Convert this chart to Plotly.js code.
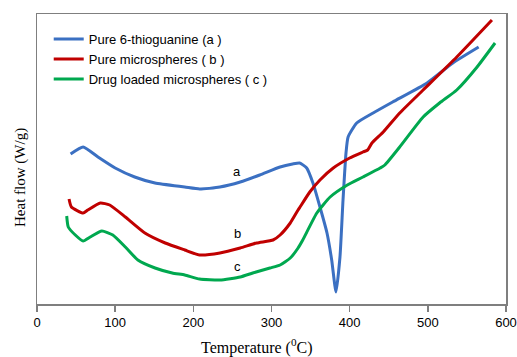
<!DOCTYPE html>
<html>
<head>
<meta charset="utf-8">
<script src="https://cdn.plot.ly/plotly-3.0.1.min.js"></script>
<style>html,body{margin:0;padding:0;background:#fff;}#chart{width:517px;height:357px;}</style>
</head>
<body>
<div id="chart"></div>
<script>
// Temperature (°C) and heat flow (arbitrary units)
const tempA = [43, 59, 78, 100, 125, 151, 189, 208, 234, 260, 285, 311, 327, 336, 345, 353, 362, 371, 377, 382.5, 387.6, 391.5, 395.3, 398, 409, 430, 455, 499, 532, 565];
const flowA = [150, 157, 147, 136, 127, 121, 117, 115, 117, 122, 129, 137, 140, 141, 136, 121, 97, 71, 44, 12, 47, 104, 151, 167, 181, 191, 202, 221, 241, 257];

const tempB = [41, 44, 59, 65, 81, 93, 113, 138, 164, 189, 208, 234, 260, 281, 302, 311, 324, 334, 336.5, 349, 362, 379, 400, 417, 423, 428.5, 443, 464, 494, 537, 582];
const flowB = [105, 97, 91, 94, 101, 99, 87, 71, 61, 54, 49, 51, 56, 61, 64, 69, 81, 94, 97, 112, 124, 136, 146, 152, 154, 161, 172, 191, 214, 247, 284];

const tempC = [38, 40, 49, 59, 68, 83, 97, 113, 129, 151, 173, 189, 208, 234, 260, 276, 298, 311, 324, 334, 340, 358, 375, 397, 417, 439, 445, 464, 494, 515, 537, 563, 586];
const flowC = [88, 77, 69, 63, 67, 73, 69, 57, 44, 36, 31, 29, 25, 24, 27, 31, 36, 39, 46, 56, 64, 91, 107, 119, 127, 136, 139, 157, 187, 201, 214, 237, 261];

const seriesNames = ["Pure 6-thioguanine (a )", "Pure microspheres ( b )", "Drug loaded microspheres ( c )"];
const xTicks = [0, 100, 200, 300, 400, 500, 600];
const labelText = ["a", "b", "c"];
const labelTemp = [256, 256, 256];
const labelFlow = [133, 71, 38];

const colors = ["#3B70C2", "#C00000", "#00A84F"];
const traces = [
  {x: tempA, y: flowA, name: seriesNames[0], color: colors[0]},
  {x: tempB, y: flowB, name: seriesNames[1], color: colors[1]},
  {x: tempC, y: flowC, name: seriesNames[2], color: colors[2]}
].map(s => ({
  x: s.x, y: s.y, name: s.name, type: 'scatter', mode: 'lines',
  line: {color: s.color, width: 3, shape: 'spline', smoothing: 0.5}
}));

const labelAnn = labelText.map((t, i) => ({
  x: labelTemp[i], y: labelFlow[i], xref: 'x', yref: 'y', text: t, showarrow: false,
  font: {family: 'Liberation Sans, Arial, sans-serif', size: 13, color: '#000'}
}));

const layout = {
  width: 517, height: 357,
  margin: {l: 37, r: 11, t: 14, b: 53},
  paper_bgcolor: '#fff', plot_bgcolor: '#fff',
  showlegend: true,
  legend: {
    x: 0.025, y: 0.965, xanchor: 'left', yanchor: 'top',
    bgcolor: 'rgba(0,0,0,0)', borderwidth: 0,
    font: {family: 'Liberation Sans, Arial, sans-serif', size: 13, color: '#000'},
    itemwidth: 30, tracegroupgap: 0
  },
  xaxis: {
    range: [0, 600], tickvals: xTicks, ticktext: xTicks.map(String),
    showgrid: false, zeroline: false,
    showline: true, mirror: true, linecolor: '#7f7f7f', linewidth: 1.5,
    ticks: 'outside', ticklen: 6, tickcolor: '#7f7f7f', tickwidth: 1.5,
    tickfont: {family: 'Liberation Sans, Arial, sans-serif', size: 13, color: '#000'}
  },
  yaxis: {
    range: [0, 290], showgrid: false, zeroline: false,
    showline: true, mirror: true, linecolor: '#7f7f7f', linewidth: 1.5,
    ticks: '', showticklabels: false
  },
  annotations: labelAnn.concat([
    {xref: 'paper', yref: 'paper', x: (257 - 37) / 469, y: -(346 - 304) / 290, xanchor: 'center', yanchor: 'middle',
     text: 'Temperature (<sup>0</sup>C)', showarrow: false,
     font: {family: 'Liberation Serif, Times New Roman, serif', size: 16, color: '#000'}},
    {xref: 'paper', yref: 'paper', x: -(37 - 20) / 469, y: (304 - 178) / 290, xanchor: 'center', yanchor: 'middle',
     text: 'Heat flow (W/g)', textangle: -90, showarrow: false,
     font: {family: 'Liberation Serif, Times New Roman, serif', size: 15, color: '#000'}}
  ])
};

Plotly.newPlot('chart', traces, layout, {displayModeBar: false, staticPlot: true});
</script>
</body>
</html>
